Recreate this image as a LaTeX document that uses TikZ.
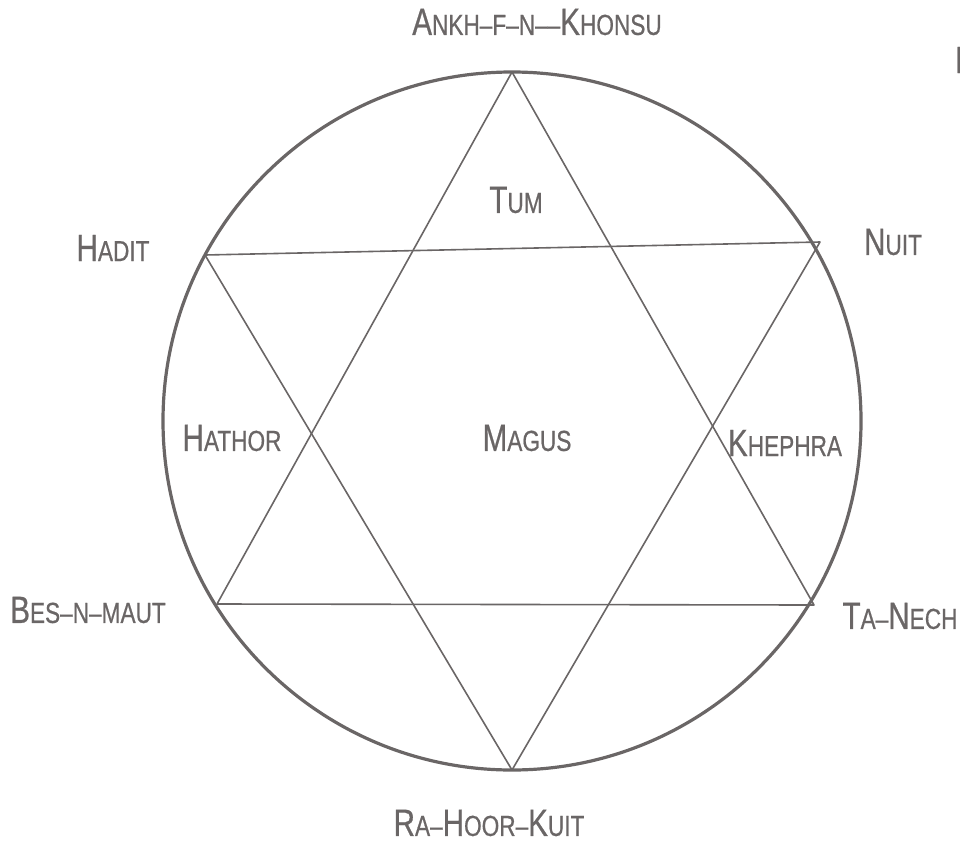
\documentclass[tikz,border=0pt]{standalone}
\usepackage{fontspec}
\setmainfont[FakeStretch=0.78,FakeBold=0.6]{Liberation Sans}
\newcommand\bigL[1]{{\fontsize{38}{38}\selectfont #1}}
\newcommand\smL[1]{{\fontsize{29}{29}\selectfont #1}}
\newcommand\dsh{{\fontsize{29}{29}\selectfont\textendash}}
\definecolor{ink}{HTML}{6A6666}
\begin{document}
\begin{tikzpicture}[x=1pt,y=-1pt,
  lbl/.style={text=ink, inner sep=0pt},
  ring/.style={draw=ink, line width=3.2pt},
  star/.style={draw=ink, line width=1.6pt, line join=round}]
\useasboundingbox (0,0) rectangle (960,843);
\coordinate (O) at (512,421);
\draw[ring] (O) circle[radius=349pt];
% vertices
\coordinate (vT) at (512,72);
\coordinate (vN) at (820,242);
\coordinate (vTN) at (814,605);
\coordinate (vB) at (512,770);
\coordinate (vBM) at (217,604);
\coordinate (vH) at (205,255);
\draw[star] (vT) -- (vTN) -- (vBM) -- cycle;
\draw[star] (vH) -- (vN) -- (vB) -- cycle;
% labels
\node[lbl] (ankh) at (537,22) {\bigL{A}\smL{NKH}\dsh\smL{F}\dsh\smL{N}\dsh\dsh\bigL{K}\smL{HONSU}};
\node[lbl, anchor=west] (east) at (955,60) {\bigL{E}};
\node[lbl] (hadit) at (113,248) {\bigL{H}\smL{ADIT}};
\node[lbl] (nuit) at (893,242) {\bigL{N}\smL{UIT}};
\node[lbl] (bes) at (88,610) {\bigL{B}\smL{ES}\dsh\smL{N}\dsh\smL{MAUT}};
\node[lbl] (tanech) at (900,616) {\bigL{T}\smL{A}\dsh\bigL{N}\smL{ECH}};
\node[lbl] (ra) at (489,823) {\bigL{R}\smL{A}\dsh\bigL{H}\smL{OOR}\dsh\bigL{K}\smL{UIT}};
\node[lbl] (hathor) at (232,438) {\bigL{H}\smL{ATHOR}};
\node[lbl] (khephra) at (785,443) {\bigL{K}\smL{HEPHRA}};
\node[lbl] (tum) at (516,200) {\bigL{T}\smL{UM}};
\node[lbl] (magus) at (527,438) {\bigL{M}\smL{AGUS}};
\end{tikzpicture}
\end{document}
